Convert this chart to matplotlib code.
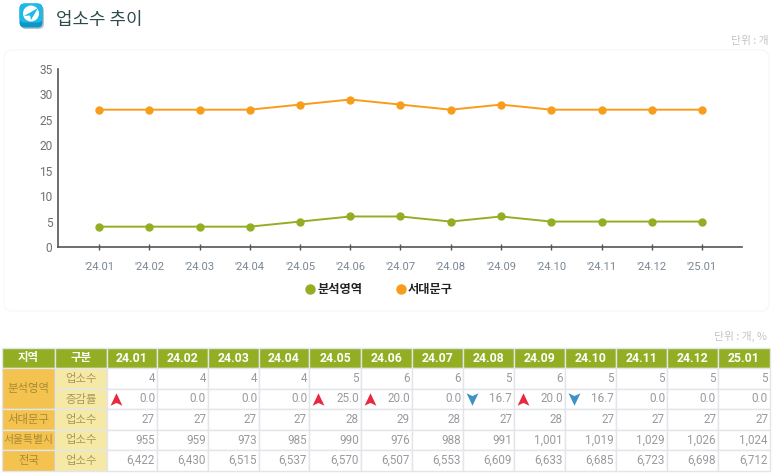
import matplotlib
matplotlib.use('Agg')
import matplotlib.pyplot as plt
from matplotlib.patches import FancyBboxPatch, Rectangle, Circle, Polygon
from matplotlib.path import Path

plt.rcParams['font.family'] = ['Noto Sans CJK KR', 'DejaVu Sans']
NUM = ['Roboto', 'DejaVu Sans']

months = ['24.01','24.02','24.03','24.04','24.05','24.06','24.07','24.08','24.09','24.10','24.11','24.12','25.01']
area = [4,4,4,4,5,6,6,5,6,5,5,5,5]
seodaemun = [27,27,27,27,28,29,28,27,28,27,27,27,27]
rate = ['0.0','0.0','0.0','0.0','25.0','20.0','0.0','16.7','20.0','16.7','0.0','0.0','0.0']
direction = [1,0,0,0,1,1,0,-1,1,-1,0,0,0]
seoul = ['955','959','973','985','990','976','988','991','1,001','1,019','1,029','1,026','1,024']
nation = ['6,422','6,430','6,515','6,537','6,570','6,507','6,553','6,609','6,633','6,685','6,723','6,698','6,712']
area_s = [str(v) for v in area]
seo_s = [str(v) for v in seodaemun]
name_area, name_seo = '분석영역', '서대문구'
GREEN, ORANGE = '#94ae24', '#f89c1c'
W, H = 773, 475

fig = plt.figure(figsize=(W/100, H/100), dpi=100, facecolor='white')
ov = fig.add_axes([0, 0, 1, 1], zorder=0)
ov.set_xlim(0, W); ov.set_ylim(H, 0); ov.axis('off')

# header
ov.add_patch(FancyBboxPatch((21, 6), 23, 23, boxstyle='round,pad=0,rounding_size=5', fc='#b9c4c6', ec='none'))
ov.add_patch(FancyBboxPatch((19.5, 3.5), 23, 24, boxstyle='round,pad=0,rounding_size=5', fc='#0a96c6', ec='none'))
ov.add_patch(FancyBboxPatch((19.5, 3.5), 23, 19, boxstyle='round,pad=0,rounding_size=5', fc='#1fb9e6', ec='none'))
ov.add_patch(Circle((31, 13.5), 8, fc='white', ec='none'))
ov.add_patch(Polygon([[24,16],[38,8],[31,20],[30,15.5]], fc='#1fb9e6', ec='none'))
ov.text(56, 19.5, '업소수 추이', fontsize=12.9, color='#2f4a4a', va='center', ha='left')
ov.text(769, 41, '단위 : 개', fontsize=7.8, color='#c4c4c4', va='center', ha='right')
ov.text(767, 336, '단위 : 개, %', fontsize=7.8, color='#c4c4c4', va='center', ha='right')
ov.add_patch(FancyBboxPatch((4, 50), 765, 261, boxstyle='round,pad=0,rounding_size=8', fc='white', ec='#f7f7f7', lw=0.8))

# chart
ax = fig.add_axes([58/W, 1-247/H, (742-58)/W, (247-69)/H], zorder=2)
ax.patch.set_alpha(0)
x = list(range(len(months)))
ax.plot(x, area, color=GREEN, lw=1.4, marker='o', ms=5, clip_on=False)
ax.plot(x, seodaemun, color=ORANGE, lw=1.4, marker='o', ms=5, clip_on=False)
ax.set_xlim((58-99)/50.25, (742-99)/50.25)
ax.set_ylim(0, 35)
ax.set_yticks(range(0, 36, 5))
ax.set_xticks(x)
ax.set_xticklabels(["'" + m for m in months])
for s in ('top', 'right'):
    ax.spines[s].set_visible(False)
for s in ('left', 'bottom'):
    ax.spines[s].set_color('#555555'); ax.spines[s].set_linewidth(1.2)
ax.tick_params(axis='y', length=0, pad=4, labelsize=8.6, labelcolor='#707070')
ax.tick_params(axis='x', length=5, width=1, color='#555555', direction='inout', pad=8, labelsize=8.1, labelcolor='#7a8794')
for t in ax.get_xticklabels() + ax.get_yticklabels():
    t.set_fontfamily(NUM)

# legend (pixel positions)
ov.plot([310], [289], 'o', color=GREEN, ms=6.5)
ov.text(317, 289, name_area, fontsize=8.8, fontweight='bold', color='#222222', va='center', ha='left')
ov.plot([401], [289], 'o', color=ORANGE, ms=6.5)
ov.text(408, 289, name_seo, fontsize=8.8, fontweight='bold', color='#222222', va='center', ha='left')

# table
col = [2, 55, 107, 157, 208, 259, 309, 361, 412, 463, 514, 565, 616, 667, 718, 770]
row = [348, 368, 389, 409, 430, 450, 471]
LINE = '#e2e5ea'
H1, H2 = '#f3c24f', '#f5e9a5'
TXT1, TXT2 = '#a98a35', '#a9975a'

def cell(x0, x1, y0, y1, fc):
    ov.add_patch(Rectangle((x0, y0), x1-x0, y1-y0, fc=fc, ec=LINE, lw=1))

def hdr(x0, x1, y0, y1, fc, s, c, **kw):
    cell(x0, x1, y0, y1, fc)
    ov.text((x0+x1)/2, (y0+y1)/2, s, color=c, ha='center', va='center', fontsize=kw.pop('fs', 8.2), **kw)

hdr(col[0], col[1], row[0], row[1], GREEN, '지역', 'white', fontweight='bold')
hdr(col[1], col[2], row[0], row[1], GREEN, '구분', 'white', fontweight='bold')
for i, m in enumerate(months):
    hdr(col[i+2], col[i+3], row[0], row[1], GREEN, m, 'white', fontweight='bold', fs=8.8, family=NUM)

hdr(col[0], col[1], row[1], row[3], H1, name_area, TXT1)
hdr(col[0], col[1], row[3], row[4], H1, name_seo, TXT1)
hdr(col[0], col[1], row[4], row[5], H1, '서울특별시', TXT1, fs=7.8)
hdr(col[0], col[1], row[5], row[6], H1, '전국', TXT1)
labels = ['업소수', '증감률', '업소수', '업소수', '업소수']
for r, l in enumerate(labels):
    hdr(col[1], col[2], row[r+1], row[r+2], H2, l, TXT2)

rows = [area_s, rate, seo_s, seoul, nation]
for r, vals in enumerate(rows):
    for i, v in enumerate(vals):
        cell(col[i+2], col[i+3], row[r+1], row[r+2], 'white')
        ov.text(col[i+3]-2, (row[r+1]+row[r+2])/2, v, color='#9a9a9a', ha='right', va='center', fontsize=8.4, family=NUM)

up = Path([(0,1),(-.95,-1),(0,-.55),(.95,-1),(0,1)], [1,2,2,2,79])
dn = Path([(0,-1),(-.95,1),(0,.55),(.95,1),(0,-1)], [1,2,2,2,79])
for i, d in enumerate(direction):
    if d:
        ov.plot([col[i+2]+8.5], [(row[2]+row[3])/2], marker=up if d > 0 else dn, ms=9,
                color='#e8293f' if d > 0 else '#3f93c4', mew=0, ls='none')

fig.savefig('out.png', dpi=100)
